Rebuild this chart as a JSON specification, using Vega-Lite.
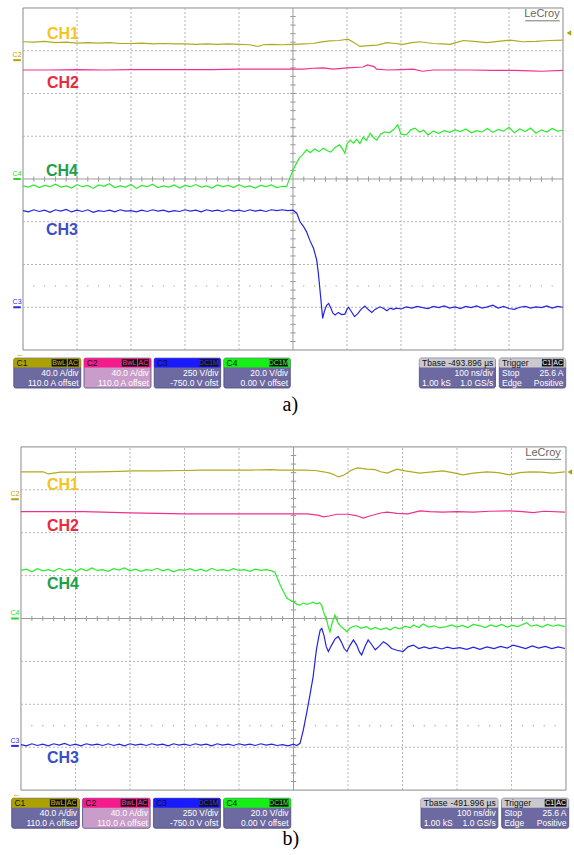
{
"$schema":"https://vega.github.io/schema/vega-lite/v6.json",
"padding":0,
"spacing":0,
"background":"white",
"config":{"view":{"stroke":null},"axis":{"disable":true},"text":{"font":"Liberation Sans"}},
"datasets":{
"gx":[{"t":-400},{"t":-300},{"t":-200},{"t":-100},{"t":100},{"t":200},{"t":300},{"t":400}],
"gy":[{"v":-3},{"v":-2},{"v":-1},{"v":1},{"v":2},{"v":3}],
"tk":[{"t":-480},{"t":-460},{"t":-440},{"t":-420},{"t":-400},{"t":-380},{"t":-360},{"t":-340},{"t":-320},{"t":-300},{"t":-280},{"t":-260},{"t":-240},{"t":-220},{"t":-200},{"t":-180},{"t":-160},{"t":-140},{"t":-120},{"t":-100},{"t":-80},{"t":-60},{"t":-40},{"t":-20},{"t":20},{"t":40},{"t":60},{"t":80},{"t":100},{"t":120},{"t":140},{"t":160},{"t":180},{"t":200},{"t":220},{"t":240},{"t":260},{"t":280},{"t":300},{"t":320},{"t":340},{"t":360},{"t":380},{"t":400},{"t":420},{"t":440},{"t":460},{"t":480}],
"tkv":[{"v":-3.8},{"v":-3.6},{"v":-3.4},{"v":-3.2},{"v":-3},{"v":-2.8},{"v":-2.6},{"v":-2.4},{"v":-2.2},{"v":-2},{"v":-1.8},{"v":-1.6},{"v":-1.4},{"v":-1.2},{"v":-1},{"v":-0.8},{"v":-0.6},{"v":-0.4},{"v":-0.2},{"v":0.2},{"v":0.4},{"v":0.6},{"v":0.8},{"v":1},{"v":1.2},{"v":1.4},{"v":1.6},{"v":1.8},{"v":2},{"v":2.2},{"v":2.4},{"v":2.6},{"v":2.8},{"v":3},{"v":3.2},{"v":3.4},{"v":3.6},{"v":3.8}],
"bx":[{"id":"C1","t":-517,"t2":-393},{"id":"C2","t":-387,"t2":-263},{"id":"C3","t":-257,"t2":-134},{"id":"C4","t":-128,"t2":-5},{"id":"Tb","t":234,"t2":375},{"id":"Tr","t":382,"t2":505}],
"bg":[{"id":"C1","t":-447,"t2":-419,"m":-433,"s":"BwL"},{"id":"C1","t":-417,"t2":-397,"m":-407,"s":"AC"},{"id":"C2","t":-317,"t2":-289,"m":-303,"s":"BwL"},{"id":"C2","t":-287,"t2":-267,"m":-277,"s":"AC"},{"id":"C3","t":-173,"t2":-138,"m":-155.5,"s":"DC1M"},{"id":"C4","t":-44,"t2":-9,"m":-26.5,"s":"DC1M"},{"id":"Tr","t":461,"t2":479,"m":470,"s":"C1"},{"id":"Tr","t":481,"t2":501,"m":491,"s":"AC"}],
"bt":[{"a":"L","r":"h","t":-512,"v":-4.3,"s":"C1"},{"a":"R","r":"b","t":-397,"v":-4.54,"s":"40.0 A/div"},{"a":"R","r":"b","t":-397,"v":-4.77,"s":"110.0 A offset"},{"a":"L","r":"h","t":-382,"v":-4.3,"s":"C2"},{"a":"R","r":"b","t":-267,"v":-4.54,"s":"40.0 A/div"},{"a":"R","r":"b","t":-267,"v":-4.77,"s":"110.0 A offset"},{"a":"L","r":"h","t":-252,"v":-4.3,"s":"C3"},{"a":"R","r":"b","t":-138,"v":-4.54,"s":"250 V/div"},{"a":"R","r":"b","t":-138,"v":-4.77,"s":"-750.0 V ofst"},{"a":"L","r":"h","t":-123,"v":-4.3,"s":"C4"},{"a":"R","r":"b","t":-9,"v":-4.54,"s":"20.0 V/div"},{"a":"R","r":"b","t":-9,"v":-4.77,"s":"0.00 V offset"},{"a":"L","r":"h","t":239,"v":-4.3,"s":"Tbase"},{"a":"R","r":"b","t":371,"v":-4.54,"s":"100 ns/div"},{"a":"L","r":"b","t":239,"v":-4.77,"s":"1.00 kS"},{"a":"R","r":"b","t":371,"v":-4.77,"s":"1.0 GS/s"},{"a":"L","r":"h","t":387,"v":-4.3,"s":"Trigger"},{"a":"L","r":"b","t":387,"v":-4.54,"s":"Stop"},{"a":"R","r":"b","t":501,"v":-4.54,"s":"25.6 A"},{"a":"L","r":"b","t":387,"v":-4.77,"s":"Edge"},{"a":"R","r":"b","t":501,"v":-4.77,"s":"Positive"}],
"lab_a":[{"s":"CH1","t":-426,"v":3.39},{"s":"CH2","t":-426,"v":2.25},{"s":"CH4","t":-428,"v":0.19},{"s":"CH3","t":-428,"v":-1.19}],
"lab_b":[{"s":"CH1","t":-423,"v":3.11},{"s":"CH2","t":-423,"v":2.16},{"s":"CH4","t":-423,"v":0.8},{"s":"CH3","t":-423,"v":-3.25}],
"mk_a":[{"ch":"C2","v":2.78},{"ch":"C4","v":0},{"ch":"C3","v":-3.0}],
"mk_b":[{"ch":"C2","v":2.78},{"ch":"C4","v":0},{"ch":"C3","v":-2.97}],
"a1":[{"t":-500,"v":3.21},{"t":-480,"v":3.2},{"t":-460,"v":3.22},{"t":-440,"v":3.19},{"t":-420,"v":3.2},{"t":-400,"v":3.18},{"t":-380,"v":3.19},{"t":-360,"v":3.18},{"t":-340,"v":3.19},{"t":-320,"v":3.17},{"t":-300,"v":3.17},{"t":-280,"v":3.18},{"t":-260,"v":3.16},{"t":-240,"v":3.17},{"t":-220,"v":3.16},{"t":-200,"v":3.16},{"t":-180,"v":3.15},{"t":-160,"v":3.16},{"t":-140,"v":3.15},{"t":-120,"v":3.16},{"t":-100,"v":3.15},{"t":-80,"v":3.14},{"t":-65,"v":3.1},{"t":-55,"v":3.14},{"t":-40,"v":3.15},{"t":-20,"v":3.14},{"t":0,"v":3.15},{"t":20,"v":3.16},{"t":37,"v":3.17},{"t":50,"v":3.2},{"t":68,"v":3.23},{"t":85,"v":3.24},{"t":102,"v":3.27},{"t":112,"v":3.2},{"t":124,"v":3.1},{"t":140,"v":3.12},{"t":156,"v":3.13},{"t":174,"v":3.19},{"t":190,"v":3.17},{"t":204,"v":3.15},{"t":220,"v":3.19},{"t":235,"v":3.21},{"t":259,"v":3.17},{"t":275,"v":3.16},{"t":291,"v":3.15},{"t":305,"v":3.2},{"t":315,"v":3.24},{"t":335,"v":3.22},{"t":359,"v":3.19},{"t":380,"v":3.22},{"t":402,"v":3.25},{"t":426,"v":3.21},{"t":450,"v":3.22},{"t":475,"v":3.24},{"t":500,"v":3.25}],
"a2":[{"t":-500,"v":2.55},{"t":-450,"v":2.55},{"t":-400,"v":2.56},{"t":-350,"v":2.55},{"t":-300,"v":2.56},{"t":-250,"v":2.56},{"t":-200,"v":2.56},{"t":-150,"v":2.56},{"t":-100,"v":2.57},{"t":-50,"v":2.57},{"t":-20,"v":2.57},{"t":0,"v":2.57},{"t":20,"v":2.57},{"t":37,"v":2.59},{"t":56,"v":2.6},{"t":74,"v":2.57},{"t":100,"v":2.6},{"t":130,"v":2.62},{"t":138,"v":2.67},{"t":150,"v":2.63},{"t":155,"v":2.57},{"t":175,"v":2.55},{"t":200,"v":2.56},{"t":222,"v":2.57},{"t":240,"v":2.52},{"t":260,"v":2.55},{"t":290,"v":2.55},{"t":330,"v":2.55},{"t":370,"v":2.54},{"t":410,"v":2.54},{"t":440,"v":2.53},{"t":460,"v":2.52},{"t":500,"v":2.54}],
"a3":[{"t":-500,"v":-0.74},{"t":-490,"v":-0.77},{"t":-480,"v":-0.72},{"t":-470,"v":-0.76},{"t":-460,"v":-0.73},{"t":-450,"v":-0.78},{"t":-440,"v":-0.72},{"t":-430,"v":-0.75},{"t":-420,"v":-0.71},{"t":-410,"v":-0.77},{"t":-400,"v":-0.73},{"t":-390,"v":-0.76},{"t":-380,"v":-0.72},{"t":-370,"v":-0.78},{"t":-360,"v":-0.74},{"t":-350,"v":-0.76},{"t":-340,"v":-0.73},{"t":-330,"v":-0.77},{"t":-320,"v":-0.72},{"t":-310,"v":-0.75},{"t":-300,"v":-0.74},{"t":-290,"v":-0.77},{"t":-280,"v":-0.73},{"t":-270,"v":-0.76},{"t":-260,"v":-0.72},{"t":-250,"v":-0.75},{"t":-240,"v":-0.73},{"t":-230,"v":-0.77},{"t":-220,"v":-0.74},{"t":-210,"v":-0.76},{"t":-200,"v":-0.72},{"t":-190,"v":-0.75},{"t":-180,"v":-0.73},{"t":-170,"v":-0.77},{"t":-160,"v":-0.72},{"t":-150,"v":-0.75},{"t":-140,"v":-0.73},{"t":-130,"v":-0.76},{"t":-120,"v":-0.72},{"t":-110,"v":-0.75},{"t":-100,"v":-0.73},{"t":-90,"v":-0.76},{"t":-80,"v":-0.72},{"t":-70,"v":-0.75},{"t":-60,"v":-0.73},{"t":-50,"v":-0.76},{"t":-40,"v":-0.72},{"t":-30,"v":-0.74},{"t":-20,"v":-0.72},{"t":-10,"v":-0.74},{"t":0,"v":-0.73},{"t":7,"v":-0.8},{"t":13,"v":-1.0},{"t":19,"v":-1.1},{"t":25,"v":-1.23},{"t":31,"v":-1.43},{"t":38,"v":-1.62},{"t":44,"v":-1.9},{"t":47,"v":-2.21},{"t":50,"v":-2.6},{"t":53,"v":-3.0},{"t":55,"v":-3.26},{"t":58,"v":-3.1},{"t":62,"v":-2.96},{"t":66,"v":-2.91},{"t":70,"v":-3.02},{"t":74,"v":-3.14},{"t":78,"v":-3.18},{"t":84,"v":-3.12},{"t":90,"v":-3.17},{"t":96,"v":-3.16},{"t":100,"v":-3.05},{"t":103,"v":-3.0},{"t":108,"v":-3.1},{"t":114,"v":-3.22},{"t":120,"v":-3.15},{"t":126,"v":-3.05},{"t":133,"v":-2.97},{"t":140,"v":-3.06},{"t":146,"v":-3.12},{"t":152,"v":-3.05},{"t":161,"v":-2.99},{"t":168,"v":-3.03},{"t":174,"v":-3.08},{"t":180,"v":-3.02},{"t":186,"v":-3.05},{"t":192,"v":-3.02},{"t":200,"v":-3.04},{"t":210,"v":-2.99},{"t":220,"v":-3.02},{"t":230,"v":-2.98},{"t":240,"v":-3.01},{"t":250,"v":-3.03},{"t":260,"v":-2.98},{"t":270,"v":-3.01},{"t":280,"v":-2.97},{"t":290,"v":-3.02},{"t":300,"v":-2.99},{"t":310,"v":-3.03},{"t":320,"v":-2.98},{"t":330,"v":-3.01},{"t":340,"v":-2.97},{"t":350,"v":-3.02},{"t":360,"v":-2.99},{"t":370,"v":-2.95},{"t":380,"v":-3.02},{"t":390,"v":-2.98},{"t":400,"v":-3.03},{"t":410,"v":-3.05},{"t":420,"v":-3.0},{"t":430,"v":-2.98},{"t":440,"v":-3.02},{"t":450,"v":-2.99},{"t":460,"v":-3.01},{"t":470,"v":-2.97},{"t":480,"v":-3.02},{"t":490,"v":-2.98},{"t":500,"v":-3.0}],
"a4":[{"t":-500,"v":-0.16},{"t":-490,"v":-0.19},{"t":-480,"v":-0.14},{"t":-470,"v":-0.2},{"t":-460,"v":-0.15},{"t":-450,"v":-0.18},{"t":-440,"v":-0.12},{"t":-430,"v":-0.19},{"t":-420,"v":-0.16},{"t":-410,"v":-0.21},{"t":-400,"v":-0.13},{"t":-390,"v":-0.18},{"t":-380,"v":-0.15},{"t":-370,"v":-0.22},{"t":-360,"v":-0.14},{"t":-350,"v":-0.17},{"t":-340,"v":-0.11},{"t":-330,"v":-0.2},{"t":-320,"v":-0.16},{"t":-310,"v":-0.19},{"t":-300,"v":-0.13},{"t":-290,"v":-0.22},{"t":-280,"v":-0.15},{"t":-270,"v":-0.18},{"t":-260,"v":-0.12},{"t":-250,"v":-0.2},{"t":-240,"v":-0.16},{"t":-230,"v":-0.19},{"t":-220,"v":-0.14},{"t":-210,"v":-0.21},{"t":-200,"v":-0.15},{"t":-190,"v":-0.18},{"t":-180,"v":-0.13},{"t":-170,"v":-0.19},{"t":-160,"v":-0.16},{"t":-150,"v":-0.21},{"t":-140,"v":-0.14},{"t":-130,"v":-0.18},{"t":-120,"v":-0.15},{"t":-110,"v":-0.2},{"t":-100,"v":-0.13},{"t":-90,"v":-0.19},{"t":-80,"v":-0.16},{"t":-70,"v":-0.21},{"t":-60,"v":-0.15},{"t":-50,"v":-0.18},{"t":-40,"v":-0.14},{"t":-30,"v":-0.2},{"t":-20,"v":-0.17},{"t":-12,"v":-0.18},{"t":-6,"v":0.02},{"t":0,"v":0.21},{"t":6,"v":0.36},{"t":12,"v":0.5},{"t":18,"v":0.57},{"t":25,"v":0.68},{"t":32,"v":0.62},{"t":40,"v":0.7},{"t":48,"v":0.64},{"t":56,"v":0.72},{"t":64,"v":0.66},{"t":70,"v":0.63},{"t":78,"v":0.74},{"t":86,"v":0.8},{"t":92,"v":0.7},{"t":96,"v":0.6},{"t":100,"v":0.82},{"t":106,"v":0.91},{"t":112,"v":0.84},{"t":118,"v":0.93},{"t":124,"v":0.83},{"t":130,"v":0.98},{"t":136,"v":0.9},{"t":143,"v":1.07},{"t":150,"v":0.96},{"t":155,"v":0.91},{"t":162,"v":1.05},{"t":170,"v":1.1},{"t":178,"v":1.08},{"t":186,"v":1.15},{"t":194,"v":1.27},{"t":200,"v":1.05},{"t":210,"v":1.03},{"t":218,"v":1.15},{"t":226,"v":1.19},{"t":234,"v":1.1},{"t":242,"v":1.14},{"t":250,"v":1.03},{"t":260,"v":1.12},{"t":270,"v":1.07},{"t":280,"v":1.13},{"t":290,"v":1.09},{"t":300,"v":1.15},{"t":310,"v":1.11},{"t":320,"v":1.17},{"t":330,"v":1.08},{"t":340,"v":1.13},{"t":350,"v":1.1},{"t":360,"v":1.18},{"t":370,"v":1.09},{"t":380,"v":1.16},{"t":390,"v":1.12},{"t":400,"v":1.21},{"t":410,"v":1.08},{"t":420,"v":1.17},{"t":430,"v":1.11},{"t":440,"v":1.19},{"t":450,"v":1.07},{"t":460,"v":1.15},{"t":470,"v":1.1},{"t":480,"v":1.18},{"t":490,"v":1.12},{"t":500,"v":1.14}],
"b1":[{"t":-500,"v":3.42},{"t":-470,"v":3.42},{"t":-459,"v":3.42},{"t":-450,"v":3.37},{"t":-440,"v":3.39},{"t":-428,"v":3.41},{"t":-400,"v":3.41},{"t":-360,"v":3.42},{"t":-320,"v":3.43},{"t":-294,"v":3.44},{"t":-250,"v":3.44},{"t":-200,"v":3.45},{"t":-172,"v":3.46},{"t":-120,"v":3.46},{"t":-80,"v":3.46},{"t":-40,"v":3.47},{"t":-25,"v":3.46},{"t":0,"v":3.46},{"t":20,"v":3.46},{"t":40,"v":3.45},{"t":55,"v":3.42},{"t":67,"v":3.39},{"t":75,"v":3.35},{"t":82,"v":3.3},{"t":92,"v":3.34},{"t":105,"v":3.45},{"t":117,"v":3.51},{"t":135,"v":3.48},{"t":150,"v":3.47},{"t":160,"v":3.42},{"t":172,"v":3.39},{"t":182,"v":3.44},{"t":190,"v":3.48},{"t":205,"v":3.44},{"t":220,"v":3.41},{"t":232,"v":3.39},{"t":255,"v":3.42},{"t":274,"v":3.44},{"t":292,"v":3.4},{"t":311,"v":3.35},{"t":330,"v":3.39},{"t":355,"v":3.42},{"t":375,"v":3.4},{"t":397,"v":3.35},{"t":415,"v":3.4},{"t":434,"v":3.42},{"t":455,"v":3.41},{"t":475,"v":3.39},{"t":498,"v":3.42}],
"b2":[{"t":-500,"v":2.49},{"t":-460,"v":2.49},{"t":-420,"v":2.49},{"t":-385,"v":2.49},{"t":-350,"v":2.48},{"t":-300,"v":2.46},{"t":-250,"v":2.45},{"t":-200,"v":2.44},{"t":-150,"v":2.44},{"t":-100,"v":2.44},{"t":-50,"v":2.44},{"t":0,"v":2.44},{"t":25,"v":2.44},{"t":45,"v":2.41},{"t":55,"v":2.37},{"t":65,"v":2.39},{"t":80,"v":2.43},{"t":100,"v":2.43},{"t":115,"v":2.4},{"t":128,"v":2.34},{"t":140,"v":2.39},{"t":160,"v":2.46},{"t":172,"v":2.48},{"t":190,"v":2.45},{"t":210,"v":2.44},{"t":232,"v":2.51},{"t":250,"v":2.49},{"t":274,"v":2.48},{"t":300,"v":2.49},{"t":330,"v":2.48},{"t":360,"v":2.5},{"t":397,"v":2.51},{"t":420,"v":2.49},{"t":440,"v":2.47},{"t":460,"v":2.5},{"t":498,"v":2.48}],
"b3":[{"t":-500,"v":-2.94},{"t":-490,"v":-2.97},{"t":-480,"v":-2.92},{"t":-470,"v":-2.96},{"t":-460,"v":-2.93},{"t":-450,"v":-2.97},{"t":-440,"v":-2.92},{"t":-430,"v":-2.95},{"t":-420,"v":-2.91},{"t":-410,"v":-2.96},{"t":-400,"v":-2.93},{"t":-390,"v":-2.97},{"t":-380,"v":-2.92},{"t":-370,"v":-2.95},{"t":-360,"v":-2.93},{"t":-350,"v":-2.96},{"t":-340,"v":-2.92},{"t":-330,"v":-2.96},{"t":-320,"v":-2.93},{"t":-310,"v":-2.97},{"t":-300,"v":-2.92},{"t":-290,"v":-2.95},{"t":-280,"v":-2.93},{"t":-270,"v":-2.96},{"t":-260,"v":-2.92},{"t":-250,"v":-2.95},{"t":-240,"v":-2.93},{"t":-230,"v":-2.97},{"t":-220,"v":-2.92},{"t":-210,"v":-2.95},{"t":-200,"v":-2.93},{"t":-190,"v":-2.96},{"t":-180,"v":-2.92},{"t":-170,"v":-2.95},{"t":-160,"v":-2.93},{"t":-150,"v":-2.97},{"t":-140,"v":-2.92},{"t":-130,"v":-2.95},{"t":-120,"v":-2.93},{"t":-110,"v":-2.96},{"t":-100,"v":-2.92},{"t":-90,"v":-2.95},{"t":-80,"v":-2.93},{"t":-70,"v":-2.96},{"t":-60,"v":-2.92},{"t":-50,"v":-2.95},{"t":-40,"v":-2.93},{"t":-30,"v":-2.96},{"t":-20,"v":-2.94},{"t":-10,"v":-2.97},{"t":0,"v":-2.93},{"t":6,"v":-2.96},{"t":12,"v":-2.91},{"t":18,"v":-2.6},{"t":25,"v":-2.15},{"t":30,"v":-1.8},{"t":36,"v":-1.36},{"t":42,"v":-0.73},{"t":46,"v":-0.45},{"t":49,"v":-0.27},{"t":52,"v":-0.23},{"t":56,"v":-0.4},{"t":60,"v":-0.65},{"t":64,"v":-0.77},{"t":70,"v":-0.62},{"t":76,"v":-0.48},{"t":82,"v":-0.42},{"t":88,"v":-0.55},{"t":93,"v":-0.7},{"t":98,"v":-0.77},{"t":104,"v":-0.62},{"t":110,"v":-0.5},{"t":116,"v":-0.62},{"t":121,"v":-0.78},{"t":125,"v":-0.85},{"t":131,"v":-0.66},{"t":137,"v":-0.5},{"t":143,"v":-0.6},{"t":150,"v":-0.73},{"t":157,"v":-0.65},{"t":165,"v":-0.54},{"t":172,"v":-0.6},{"t":180,"v":-0.7},{"t":190,"v":-0.74},{"t":201,"v":-0.77},{"t":210,"v":-0.66},{"t":220,"v":-0.62},{"t":230,"v":-0.7},{"t":240,"v":-0.66},{"t":250,"v":-0.7},{"t":260,"v":-0.67},{"t":272,"v":-0.71},{"t":282,"v":-0.67},{"t":293,"v":-0.7},{"t":305,"v":-0.68},{"t":318,"v":-0.72},{"t":330,"v":-0.67},{"t":342,"v":-0.72},{"t":355,"v":-0.66},{"t":368,"v":-0.7},{"t":380,"v":-0.65},{"t":392,"v":-0.69},{"t":403,"v":-0.62},{"t":415,"v":-0.66},{"t":426,"v":-0.7},{"t":438,"v":-0.64},{"t":450,"v":-0.69},{"t":462,"v":-0.65},{"t":474,"v":-0.7},{"t":486,"v":-0.66},{"t":498,"v":-0.7}],
"b4":[{"t":-500,"v":1.12},{"t":-490,"v":1.15},{"t":-480,"v":1.09},{"t":-470,"v":1.16},{"t":-460,"v":1.11},{"t":-450,"v":1.14},{"t":-440,"v":1.1},{"t":-430,"v":1.17},{"t":-420,"v":1.12},{"t":-410,"v":1.15},{"t":-400,"v":1.09},{"t":-390,"v":1.16},{"t":-380,"v":1.11},{"t":-370,"v":1.18},{"t":-360,"v":1.12},{"t":-350,"v":1.14},{"t":-340,"v":1.1},{"t":-330,"v":1.16},{"t":-320,"v":1.13},{"t":-310,"v":1.18},{"t":-300,"v":1.11},{"t":-290,"v":1.15},{"t":-280,"v":1.1},{"t":-270,"v":1.14},{"t":-260,"v":1.12},{"t":-250,"v":1.17},{"t":-240,"v":1.11},{"t":-230,"v":1.15},{"t":-220,"v":1.09},{"t":-210,"v":1.14},{"t":-200,"v":1.12},{"t":-190,"v":1.16},{"t":-180,"v":1.11},{"t":-170,"v":1.15},{"t":-160,"v":1.1},{"t":-150,"v":1.17},{"t":-140,"v":1.12},{"t":-130,"v":1.14},{"t":-120,"v":1.11},{"t":-110,"v":1.16},{"t":-100,"v":1.12},{"t":-90,"v":1.14},{"t":-80,"v":1.1},{"t":-70,"v":1.15},{"t":-60,"v":1.12},{"t":-50,"v":1.14},{"t":-40,"v":1.11},{"t":-34,"v":1.08},{"t":-25,"v":0.8},{"t":-18,"v":0.62},{"t":-12,"v":0.47},{"t":-5,"v":0.42},{"t":0,"v":0.39},{"t":6,"v":0.33},{"t":12,"v":0.31},{"t":18,"v":0.36},{"t":24,"v":0.33},{"t":30,"v":0.35},{"t":36,"v":0.38},{"t":42,"v":0.34},{"t":48,"v":0.37},{"t":52,"v":0.3},{"t":55,"v":0.16},{"t":58,"v":0.05},{"t":61,"v":-0.04},{"t":64,"v":-0.2},{"t":67,"v":-0.31},{"t":71,"v":-0.1},{"t":76,"v":0.08},{"t":79,"v":-0.02},{"t":82,"v":-0.11},{"t":88,"v":-0.2},{"t":94,"v":-0.26},{"t":98,"v":-0.31},{"t":104,"v":-0.22},{"t":110,"v":-0.18},{"t":116,"v":-0.17},{"t":124,"v":-0.23},{"t":134,"v":-0.19},{"t":142,"v":-0.25},{"t":150,"v":-0.21},{"t":160,"v":-0.26},{"t":170,"v":-0.22},{"t":177,"v":-0.27},{"t":186,"v":-0.2},{"t":195,"v":-0.24},{"t":205,"v":-0.18},{"t":214,"v":-0.22},{"t":220,"v":-0.15},{"t":230,"v":-0.21},{"t":238,"v":-0.13},{"t":248,"v":-0.2},{"t":258,"v":-0.17},{"t":268,"v":-0.22},{"t":281,"v":-0.19},{"t":290,"v":-0.15},{"t":300,"v":-0.2},{"t":310,"v":-0.16},{"t":320,"v":-0.21},{"t":330,"v":-0.14},{"t":342,"v":-0.17},{"t":352,"v":-0.21},{"t":362,"v":-0.15},{"t":372,"v":-0.19},{"t":382,"v":-0.14},{"t":392,"v":-0.2},{"t":402,"v":-0.16},{"t":412,"v":-0.19},{"t":422,"v":-0.13},{"t":428,"v":-0.1},{"t":436,"v":-0.18},{"t":446,"v":-0.15},{"t":456,"v":-0.2},{"t":466,"v":-0.14},{"t":476,"v":-0.18},{"t":486,"v":-0.15},{"t":498,"v":-0.19}]
},
"vconcat":[
{"width":574,"height":427,
"resolve":{"scale":{"color":"independent","fill":"independent"}},
"layer":[
{"data":{"values":[{}]},"mark":{"type":"rect","fillOpacity":0,"stroke":"#8a8a8a","strokeWidth":1},"encoding":{"x":{"datum":-500,"type":"quantitative","scale":{"domain":[-542.6,520.4],"nice":false,"zero":false}},"x2":{"datum":500},"y":{"datum":-4,"type":"quantitative","scale":{"domain":[-5.801,4.187],"nice":false,"zero":false}},"y2":{"datum":4}}},
{"data":{"name":"gx"},"mark":{"type":"rule","color":"#b4b4b4","strokeDash":[2,2],"strokeWidth":1},"encoding":{"x":{"field":"t","type":"quantitative"},"y":{"datum":-4},"y2":{"datum":4}}},
{"data":{"name":"gy"},"mark":{"type":"rule","color":"#b4b4b4","strokeDash":[2,2],"strokeWidth":1},"encoding":{"y":{"field":"v","type":"quantitative"},"x":{"datum":-500},"x2":{"datum":500}}},
{"data":{"values":[{}]},"mark":{"type":"rule","color":"#9a9a9a","strokeWidth":1},"encoding":{"x":{"datum":0},"y":{"datum":-4},"y2":{"datum":4}}},
{"data":{"values":[{}]},"mark":{"type":"rule","color":"#9a9a9a","strokeWidth":1},"encoding":{"x":{"datum":-500},"x2":{"datum":500},"y":{"datum":0}}},
{"data":{"name":"tk"},"mark":{"type":"rule","color":"#9a9a9a","strokeWidth":1},"encoding":{"x":{"field":"t","type":"quantitative"},"y":{"datum":-0.06},"y2":{"datum":0.06}}},
{"data":{"name":"tkv"},"mark":{"type":"rule","color":"#9a9a9a","strokeWidth":1},"encoding":{"y":{"field":"v","type":"quantitative"},"x":{"datum":-5},"x2":{"datum":5}}},
{"data":{"name":"tk"},"mark":{"type":"circle","size":2,"color":"#a8a8a8","opacity":1},"encoding":{"x":{"field":"t","type":"quantitative"},"y":{"datum":-2.5}}},
{"data":{"name":"a1"},"mark":{"type":"line","color":"#b0aa1e","strokeWidth":1.2},"encoding":{"x":{"field":"t","type":"quantitative","scale":{"domain":[-542.6,520.4],"nice":false,"zero":false}},"y":{"field":"v","type":"quantitative","scale":{"domain":[-5.801,4.187],"nice":false,"zero":false}}}},
{"data":{"name":"a2"},"mark":{"type":"line","color":"#f0308e","strokeWidth":1.2},"encoding":{"x":{"field":"t","type":"quantitative"},"y":{"field":"v","type":"quantitative"}}},
{"data":{"name":"a4"},"mark":{"type":"line","color":"#2bea2b","strokeWidth":1.2},"encoding":{"x":{"field":"t","type":"quantitative"},"y":{"field":"v","type":"quantitative"}}},
{"data":{"name":"a3"},"mark":{"type":"line","color":"#2424e0","strokeWidth":1.2},"encoding":{"x":{"field":"t","type":"quantitative"},"y":{"field":"v","type":"quantitative"}}},
{"data":{"name":"lab_a"},"mark":{"type":"text","fontSize":16,"fontWeight":"bold","align":"center","baseline":"middle"},"encoding":{"x":{"field":"t","type":"quantitative"},"y":{"field":"v","type":"quantitative"},"text":{"field":"s"},"color":{"field":"s","type":"nominal","scale":{"domain":["CH1","CH2","CH4","CH3"],"range":["#f7c31c","#ea2a3e","#21a04c","#3b4fc6"]},"legend":null}}},
{"data":{"name":"mk_a"},"mark":{"type":"rule","strokeWidth":2},"encoding":{"y":{"field":"v","type":"quantitative"},"x":{"datum":-518},"x2":{"datum":-504},"color":{"field":"ch","type":"nominal","scale":{"domain":["C2","C4","C3"],"range":["#b0a400","#22dd22","#2a2ae0"]},"legend":null}}},
{"data":{"name":"mk_a"},"mark":{"type":"text","fontSize":7,"dy":-5,"align":"center","baseline":"middle"},"encoding":{"y":{"field":"v","type":"quantitative"},"x":{"datum":-511},"text":{"field":"ch"},"color":{"field":"ch","type":"nominal","scale":{"domain":["C2","C4","C3"],"range":["#b0a400","#22dd22","#2a2ae0"]},"legend":null}}},
{"data":{"values":[{}]},"mark":{"type":"point","shape":"triangle-left","filled":true,"size":28,"color":"#b0a400","opacity":1},"encoding":{"x":{"datum":511},"y":{"datum":3.415}}},
{"data":{"values":[{}]},"mark":{"type":"text","fontSize":11,"color":"#666666","align":"center","baseline":"middle"},"encoding":{"x":{"datum":461},"y":{"datum":3.85},"text":{"value":"LeCroy"}}},
{"data":{"values":[{}]},"mark":{"type":"rule","color":"#777777","strokeWidth":1},"encoding":{"x":{"datum":430},"x2":{"datum":494},"y":{"datum":3.7}}},
{"data":{"name":"bx"},"mark":{"type":"rect","cornerRadius":2,"stroke":"#4c4a78","strokeWidth":0.8},"encoding":{"x":{"field":"t","type":"quantitative"},"x2":{"field":"t2"},"y":{"datum":-4.19},"y2":{"datum":-4.89},"fill":{"field":"id","type":"nominal","scale":{"domain":["C1","C2","C3","C4","Tb","Tr"],"range":["#6d69a1","#c99cc9","#6d69a1","#6d69a1","#6d69a1","#6d69a1"]},"legend":null}}},
{"data":{"name":"bx"},"mark":{"type":"rect","cornerRadius":1},"encoding":{"x":{"field":"t","type":"quantitative"},"x2":{"field":"t2"},"y":{"datum":-4.19},"y2":{"datum":-4.41},"fill":{"field":"id","type":"nominal","scale":{"domain":["C1","C2","C3","C4","Tb","Tr"],"range":["#aca100","#f41b8b","#1a1aff","#14f014","#c9c9ce","#c9c9ce"]},"legend":null}}},
{"data":{"name":"bg"},"mark":{"type":"rect","color":"#111111"},"encoding":{"x":{"field":"t","type":"quantitative"},"x2":{"field":"t2"},"y":{"datum":-4.215},"y2":{"datum":-4.385}}},
{"data":{"name":"bg"},"mark":{"type":"text","fontSize":7,"align":"center","baseline":"middle"},"encoding":{"x":{"field":"m","type":"quantitative"},"y":{"datum":-4.3},"text":{"field":"s"},"color":{"field":"id","type":"nominal","scale":{"domain":["C1","C2","C3","C4","Tr"],"range":["#c8bc10","#ff3aa0","#3a3aff","#30ff30","#ffffff"]},"legend":null}}},
{"data":{"name":"bt"},"transform":[{"filter":"datum.a === 'L'"}],"mark":{"type":"text","fontSize":8.5,"align":"left","baseline":"middle"},"encoding":{"x":{"field":"t","type":"quantitative"},"y":{"field":"v","type":"quantitative"},"text":{"field":"s"},"color":{"field":"r","type":"nominal","scale":{"domain":["h","b"],"range":["#111111","#ffffff"]},"legend":null}}},
{"data":{"name":"bt"},"transform":[{"filter":"datum.a === 'R'"}],"mark":{"type":"text","fontSize":8.5,"align":"right","baseline":"middle"},"encoding":{"x":{"field":"t","type":"quantitative"},"y":{"field":"v","type":"quantitative"},"text":{"field":"s"},"color":{"field":"r","type":"nominal","scale":{"domain":["h","b"],"range":["#111111","#ffffff"]},"legend":null}}},
{"data":{"values":[{}]},"mark":{"type":"text","fontSize":8.5,"align":"right","baseline":"middle","color":"#111111"},"encoding":{"x":{"datum":371},"y":{"datum":-4.3},"text":{"value":"-493.896 µs"}}},
{"data":{"values":[{}]},"mark":{"type":"text","fontSize":9,"align":"center","baseline":"middle","color":"#c8b400"},"encoding":{"x":{"datum":-505},"y":{"datum":-4.09},"text":{"value":"←"}}},
{"data":{"values":[{}]},"mark":{"type":"text","fontSize":20,"font":"Liberation Serif","align":"center","baseline":"middle","color":"#000000"},"encoding":{"x":{"datum":-5},"y":{"datum":-5.29},"text":{"value":"a)"}}}
]},
{"width":574,"height":428,
"resolve":{"scale":{"color":"independent","fill":"independent"}},
"layer":[
{"data":{"values":[{}]},"mark":{"type":"rect","fillOpacity":0,"stroke":"#8a8a8a","strokeWidth":1},"encoding":{"x":{"datum":-500,"type":"quantitative","scale":{"domain":[-538.5,514.7],"nice":false,"zero":false}},"x2":{"datum":500},"y":{"datum":-4,"type":"quantitative","scale":{"domain":[-5.513,4.464],"nice":false,"zero":false}},"y2":{"datum":4}}},
{"data":{"name":"gx"},"mark":{"type":"rule","color":"#b4b4b4","strokeDash":[2,2],"strokeWidth":1},"encoding":{"x":{"field":"t","type":"quantitative"},"y":{"datum":-4},"y2":{"datum":4}}},
{"data":{"name":"gy"},"mark":{"type":"rule","color":"#b4b4b4","strokeDash":[2,2],"strokeWidth":1},"encoding":{"y":{"field":"v","type":"quantitative"},"x":{"datum":-500},"x2":{"datum":500}}},
{"data":{"values":[{}]},"mark":{"type":"rule","color":"#9a9a9a","strokeWidth":1},"encoding":{"x":{"datum":0},"y":{"datum":-4},"y2":{"datum":4}}},
{"data":{"values":[{}]},"mark":{"type":"rule","color":"#9a9a9a","strokeWidth":1},"encoding":{"x":{"datum":-500},"x2":{"datum":500},"y":{"datum":0}}},
{"data":{"name":"tk"},"mark":{"type":"rule","color":"#9a9a9a","strokeWidth":1},"encoding":{"x":{"field":"t","type":"quantitative"},"y":{"datum":-0.06},"y2":{"datum":0.06}}},
{"data":{"name":"tkv"},"mark":{"type":"rule","color":"#9a9a9a","strokeWidth":1},"encoding":{"y":{"field":"v","type":"quantitative"},"x":{"datum":-5},"x2":{"datum":5}}},
{"data":{"name":"tk"},"mark":{"type":"circle","size":2,"color":"#a8a8a8","opacity":1},"encoding":{"x":{"field":"t","type":"quantitative"},"y":{"datum":-2.5}}},
{"data":{"name":"b1"},"mark":{"type":"line","color":"#b0aa1e","strokeWidth":1.2},"encoding":{"x":{"field":"t","type":"quantitative","scale":{"domain":[-538.5,514.7],"nice":false,"zero":false}},"y":{"field":"v","type":"quantitative","scale":{"domain":[-5.513,4.464],"nice":false,"zero":false}}}},
{"data":{"name":"b2"},"mark":{"type":"line","color":"#f0308e","strokeWidth":1.2},"encoding":{"x":{"field":"t","type":"quantitative"},"y":{"field":"v","type":"quantitative"}}},
{"data":{"name":"b4"},"mark":{"type":"line","color":"#2bea2b","strokeWidth":1.2},"encoding":{"x":{"field":"t","type":"quantitative"},"y":{"field":"v","type":"quantitative"}}},
{"data":{"name":"b3"},"mark":{"type":"line","color":"#2424e0","strokeWidth":1.2},"encoding":{"x":{"field":"t","type":"quantitative"},"y":{"field":"v","type":"quantitative"}}},
{"data":{"name":"lab_b"},"mark":{"type":"text","fontSize":16,"fontWeight":"bold","align":"center","baseline":"middle"},"encoding":{"x":{"field":"t","type":"quantitative"},"y":{"field":"v","type":"quantitative"},"text":{"field":"s"},"color":{"field":"s","type":"nominal","scale":{"domain":["CH1","CH2","CH4","CH3"],"range":["#f7c31c","#ea2a3e","#21a04c","#3b4fc6"]},"legend":null}}},
{"data":{"name":"mk_b"},"mark":{"type":"rule","strokeWidth":2},"encoding":{"y":{"field":"v","type":"quantitative"},"x":{"datum":-518},"x2":{"datum":-504},"color":{"field":"ch","type":"nominal","scale":{"domain":["C2","C4","C3"],"range":["#b0a400","#22dd22","#2a2ae0"]},"legend":null}}},
{"data":{"name":"mk_b"},"mark":{"type":"text","fontSize":7,"dy":-5,"align":"center","baseline":"middle"},"encoding":{"y":{"field":"v","type":"quantitative"},"x":{"datum":-511},"text":{"field":"ch"},"color":{"field":"ch","type":"nominal","scale":{"domain":["C2","C4","C3"],"range":["#b0a400","#22dd22","#2a2ae0"]},"legend":null}}},
{"data":{"values":[{}]},"mark":{"type":"point","shape":"triangle-left","filled":true,"size":28,"color":"#b0a400","opacity":1},"encoding":{"x":{"datum":507},"y":{"datum":3.415}}},
{"data":{"values":[{}]},"mark":{"type":"text","fontSize":11,"color":"#666666","align":"center","baseline":"middle"},"encoding":{"x":{"datum":458},"y":{"datum":3.86},"text":{"value":"LeCroy"}}},
{"data":{"values":[{}]},"mark":{"type":"rule","color":"#777777","strokeWidth":1},"encoding":{"x":{"datum":427},"x2":{"datum":491},"y":{"datum":3.71}}},
{"data":{"name":"bx"},"mark":{"type":"rect","cornerRadius":2,"stroke":"#4c4a78","strokeWidth":0.8},"encoding":{"x":{"field":"t","type":"quantitative"},"x2":{"field":"t2"},"y":{"datum":-4.19},"y2":{"datum":-4.89},"fill":{"field":"id","type":"nominal","scale":{"domain":["C1","C2","C3","C4","Tb","Tr"],"range":["#6d69a1","#c99cc9","#6d69a1","#6d69a1","#6d69a1","#6d69a1"]},"legend":null}}},
{"data":{"name":"bx"},"mark":{"type":"rect","cornerRadius":1},"encoding":{"x":{"field":"t","type":"quantitative"},"x2":{"field":"t2"},"y":{"datum":-4.19},"y2":{"datum":-4.41},"fill":{"field":"id","type":"nominal","scale":{"domain":["C1","C2","C3","C4","Tb","Tr"],"range":["#aca100","#f41b8b","#1a1aff","#14f014","#c9c9ce","#c9c9ce"]},"legend":null}}},
{"data":{"name":"bg"},"mark":{"type":"rect","color":"#111111"},"encoding":{"x":{"field":"t","type":"quantitative"},"x2":{"field":"t2"},"y":{"datum":-4.215},"y2":{"datum":-4.385}}},
{"data":{"name":"bg"},"mark":{"type":"text","fontSize":7,"align":"center","baseline":"middle"},"encoding":{"x":{"field":"m","type":"quantitative"},"y":{"datum":-4.3},"text":{"field":"s"},"color":{"field":"id","type":"nominal","scale":{"domain":["C1","C2","C3","C4","Tr"],"range":["#c8bc10","#ff3aa0","#3a3aff","#30ff30","#ffffff"]},"legend":null}}},
{"data":{"name":"bt"},"transform":[{"filter":"datum.a === 'L'"}],"mark":{"type":"text","fontSize":8.5,"align":"left","baseline":"middle"},"encoding":{"x":{"field":"t","type":"quantitative"},"y":{"field":"v","type":"quantitative"},"text":{"field":"s"},"color":{"field":"r","type":"nominal","scale":{"domain":["h","b"],"range":["#111111","#ffffff"]},"legend":null}}},
{"data":{"name":"bt"},"transform":[{"filter":"datum.a === 'R'"}],"mark":{"type":"text","fontSize":8.5,"align":"right","baseline":"middle"},"encoding":{"x":{"field":"t","type":"quantitative"},"y":{"field":"v","type":"quantitative"},"text":{"field":"s"},"color":{"field":"r","type":"nominal","scale":{"domain":["h","b"],"range":["#111111","#ffffff"]},"legend":null}}},
{"data":{"values":[{}]},"mark":{"type":"text","fontSize":8.5,"align":"right","baseline":"middle","color":"#111111"},"encoding":{"x":{"datum":371},"y":{"datum":-4.3},"text":{"value":"-491.996 µs"}}},
{"data":{"values":[{}]},"mark":{"type":"text","fontSize":9,"align":"center","baseline":"middle","color":"#c8b400"},"encoding":{"x":{"datum":-508},"y":{"datum":-4.09},"text":{"value":"←"}}},
{"data":{"values":[{}]},"mark":{"type":"text","fontSize":20,"font":"Liberation Serif","align":"center","baseline":"middle","color":"#000000"},"encoding":{"x":{"datum":-5},"y":{"datum":-5.14},"text":{"value":"b)"}}}
]}
]
}
